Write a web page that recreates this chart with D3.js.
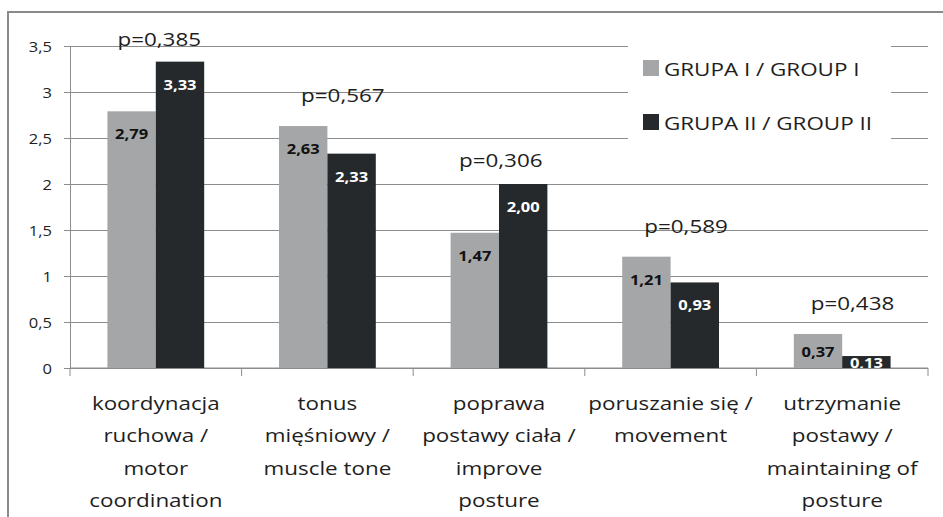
<!DOCTYPE html>
<html>
<head>
<meta charset="utf-8">
<script src="https://cdn.jsdelivr.net/npm/d3@7/dist/d3.min.js"></script>
<style>
  body { margin: 0; background: #fff; }
  text { font-family: "Open Sans", sans-serif; fill: #1e1e1e; }
</style>
</head>
<body>
<svg id="chart" width="943" height="517"></svg>
<script>
var categories = [
  ["koordynacja", "ruchowa /", "motor", "coordination"],
  ["tonus", "mięśniowy /", "muscle tone"],
  ["poprawa", "postawy ciała /", "improve", "posture"],
  ["poruszanie się /", "movement"],
  ["utrzymanie", "postawy /", "maintaining of", "posture"]
];
var seriesNames = ["GRUPA I / GROUP I", "GRUPA II / GROUP II"];
var group1 = [2.79, 2.63, 1.47, 1.21, 0.37];
var group2 = [3.33, 2.33, 2.00, 0.93, 0.13];
var pValues = ["p=0,385", "p=0,567", "p=0,306", "p=0,589", "p=0,438"];
var yTicks = [0, 0.5, 1, 1.5, 2, 2.5, 3, 3.5];

// where each p label sits: [shift in category widths, y value of the baseline]
var pAnchors = [[0.02, 3.5], [0.09, 2.89], [0.01, 2.18], [0.09, 1.47], [0.06, 0.63]];

(function() {
  var colors = ["#a4a6a7", "#25292b"];
  var stretch = 1.18;  // the source picture is drawn a bit wide
  var fmt = function(v) { return v.toFixed(2).replace(".", ","); };

  var svg = d3.select("#chart");
  var pLeft = 70, pRight = 928, pTop = 46, pBottom = 368;

  var x0 = d3.scaleBand().domain(d3.range(categories.length)).range([pLeft, pRight]);
  var bw = x0.bandwidth();
  var x1 = d3.scaleBand().domain([0, 1]).range([bw * 0.218, bw * 0.782]);
  var y = d3.scaleLinear().domain([0, 3.5]).range([pBottom, pTop]);

  // frame (picture is cut on the right and bottom)
  svg.append("path")
    .attr("d", "M8,517V12H943")
    .attr("fill", "none")
    .attr("stroke", "#8a8a8a")
    .attr("stroke-width", 2);

  // grid + y axis
  var yAxis = d3.axisLeft(y)
    .tickValues(yTicks)
    .tickSize(0)
    .tickFormat(function(d) { return String(d).replace(".", ","); });

  var gy = svg.append("g").attr("transform", "translate(" + pLeft + ",0)").call(yAxis);
  gy.select(".domain").attr("stroke", "#8c8c8c");
  gy.selectAll(".tick line").attr("stroke", "#8c8c8c").attr("x1", -6).attr("x2", pRight - pLeft);
  gy.selectAll(".tick text")
    .attr("x", null)
    .attr("dy", "0.36em")
    .attr("transform", "translate(-18,0) scale(" + stretch + ",1)")
    .attr("text-anchor", "end")
    .style("font-size", "14px")
    .style("font-family", "'Open Sans', sans-serif")
    .attr("fill", "#1e1e1e");

  // legend box hides grid lines behind it
  svg.append("rect")
    .attr("x", 628).attr("y", 36)
    .attr("width", 263).attr("height", 128)
    .attr("fill", "#fff");

  // x axis
  var xTickPos = d3.range(categories.length + 1).map(function(i) { return pLeft + i * bw; });
  svg.append("line")
    .attr("x1", pLeft).attr("x2", pRight)
    .attr("y1", pBottom).attr("y2", pBottom)
    .attr("stroke", "#8c8c8c");
  svg.selectAll("line.xtick")
    .data(xTickPos)
    .enter().append("line")
    .attr("class", "xtick")
    .attr("x1", function(d) { return d; }).attr("x2", function(d) { return d; })
    .attr("y1", pBottom).attr("y2", pBottom + 8)
    .attr("stroke", "#8c8c8c");

  // bars
  var rows = categories.map(function(c, i) { return [group1[i], group2[i]]; });
  var groups = svg.selectAll("g.cat")
    .data(rows)
    .enter().append("g")
    .attr("class", "cat")
    .attr("transform", function(d, i) { return "translate(" + x0(i) + ",0)"; });

  groups.selectAll("rect")
    .data(function(d) { return d; })
    .enter().append("rect")
    .attr("x", function(d, j) { return x1(j); })
    .attr("y", function(d) { return y(d); })
    .attr("width", x1.bandwidth())
    .attr("height", function(d) { return pBottom - y(d); })
    .attr("fill", function(d, j) { return colors[j]; });

  // value labels, clipped at the axis
  svg.append("clipPath").attr("id", "plotclip")
    .append("rect").attr("x", 0).attr("y", 0).attr("width", 943).attr("height", pBottom);

  var labels = svg.append("g").attr("clip-path", "url(#plotclip)");
  rows.forEach(function(r, i) {
    labels.selectAll("text.v" + i)
      .data(r)
      .enter().append("text")
      .attr("class", "v" + i)
      .attr("transform", function(v, j) {
        var cx = x0(i) + x1(j) + x1.bandwidth() / 2;
        var t = y(v);
        var by = Math.min(t + 28, (t + pBottom) / 2 + 6);
        return "translate(" + cx + "," + by + ") scale(" + stretch + ",1)";
      })
      .attr("text-anchor", "middle")
      .style("font-size", "14px")
      .style("font-weight", "bold")
      .style("fill", function(v, j) { return j === 0 ? "#111" : "#fff"; })
      .text(fmt);
  });

  // p values
  svg.selectAll("text.pval")
    .data(pValues)
    .enter().append("text")
    .attr("class", "pval")
    .attr("transform", function(d, i) {
      var cx = x0(i) + bw / 2 + pAnchors[i][0] * bw;
      return "translate(" + cx + "," + y(pAnchors[i][1]) + ") scale(" + stretch + ",1)";
    })
    .attr("text-anchor", "middle")
    .style("font-size", "19px")
    .text(function(d) { return d; });

  // category labels
  svg.selectAll("text.catlabel")
    .data(categories)
    .enter().append("text")
    .attr("class", "catlabel")
    .attr("transform", function(d, i) {
      return "translate(" + (x0(i) + bw / 2) + ",410) scale(" + stretch + ",1)";
    })
    .attr("text-anchor", "middle")
    .style("font-size", "19px")
    .selectAll("tspan")
    .data(function(d) { return d; })
    .enter().append("tspan")
    .attr("x", 0)
    .attr("dy", function(d, k) { return k === 0 ? 0 : 32.5; })
    .text(function(d) { return d; });

  // legend
  var legend = svg.selectAll("g.legend")
    .data(seriesNames)
    .enter().append("g")
    .attr("class", "legend")
    .attr("transform", function(d, i) { return "translate(643," + (60 + i * 54) + ")"; });
  legend.append("rect")
    .attr("width", 16).attr("height", 16)
    .attr("fill", function(d, i) { return colors[i]; });
  legend.append("text")
    .attr("transform", "translate(21,16) scale(" + stretch + ",1)")
    .style("font-size", "19px")
    .text(function(d) { return d; });
})();
</script>
</body>
</html>
